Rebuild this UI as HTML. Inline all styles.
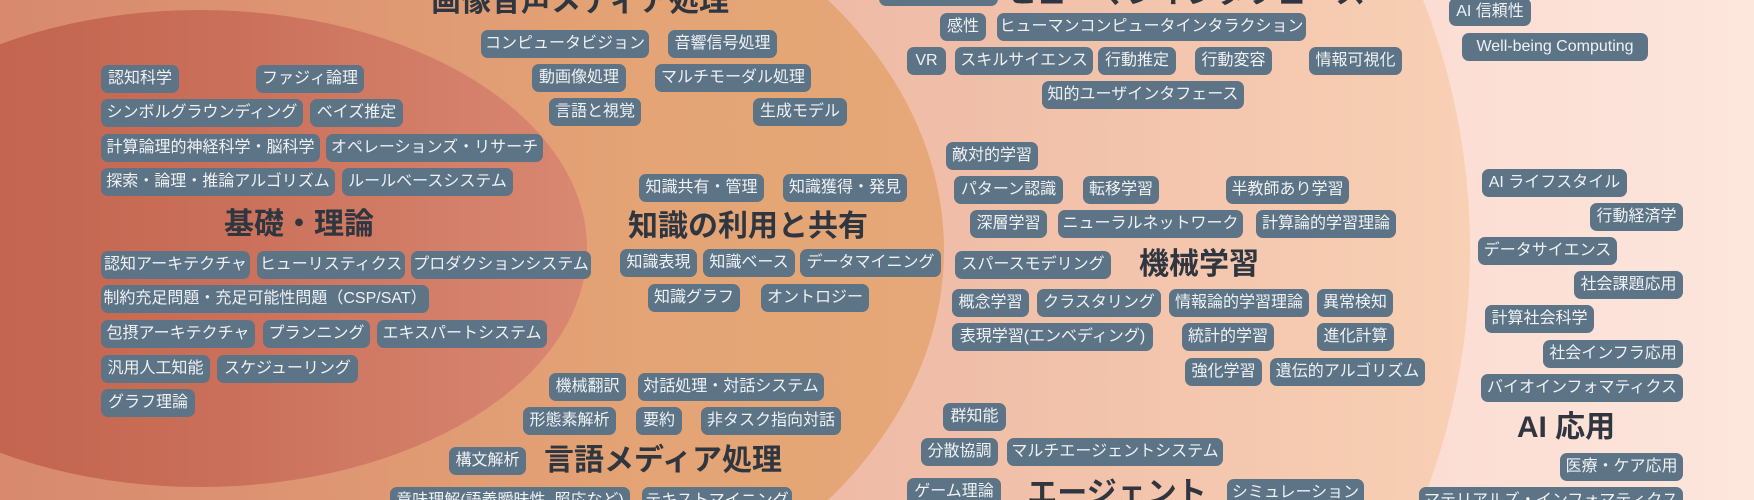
<!DOCTYPE html>
<html><head><meta charset="utf-8">
<style>
html,body{margin:0;padding:0;width:1754px;height:500px;overflow:hidden}
#w{width:1754px;height:500px;position:relative;overflow:hidden;background:linear-gradient(90deg,#f9d6cb 0%,#fbdcd2 80%,#fde6dc 100%);font-family:"Liberation Sans","Noto Sans CJK JP",sans-serif}
.e{position:absolute;border-radius:50%}
.t{position:absolute;height:28px;line-height:28px;background:#5d7386;color:#eef2f5;border-radius:7px;font-size:16px;text-align:center;white-space:nowrap;overflow:hidden;box-sizing:border-box}
.h{position:absolute;transform:translate(-50%,-50%);font-size:30px;font-weight:bold;color:#2f3640;white-space:nowrap;line-height:1}
</style></head><body><div id="w">
<div class="e" style="left:438px;top:-350px;width:1032px;height:1200px;background:linear-gradient(90deg,#eab0a0 0%,#f0bea8 50%,#f8d0b4 100%)"></div>
<div class="e" style="left:-236px;top:-170px;width:1180px;height:840px;background:linear-gradient(90deg,#d4806a 0%,#dc9272 40%,#e4a475 75%,#e6a878 100%)"></div>
<div class="e" style="left:-187px;top:10px;width:774px;height:477px;background:linear-gradient(90deg,#bd5c48 0%,#c96e58 50%,#d98872 100%)"></div>

<div class="t" style="left:101px;top:65px;width:78px">認知科学</div>
<div class="t" style="left:256px;top:65px;width:108px">ファジィ論理</div>
<div class="t" style="left:101px;top:99px;width:202px">シンボルグラウンディング</div>
<div class="t" style="left:310px;top:99px;width:93px">ベイズ推定</div>
<div class="t" style="left:101px;top:134px;width:219px">計算論理的神経科学・脳科学</div>
<div class="t" style="left:326px;top:134px;width:217px">オペレーションズ・リサーチ</div>
<div class="t" style="left:101px;top:168px;width:234px">探索・論理・推論アルゴリズム</div>
<div class="t" style="left:342px;top:168px;width:171px">ルールベースシステム</div>
<div class="t" style="left:101px;top:251px;width:149px">認知アーキテクチャ</div>
<div class="t" style="left:257px;top:251px;width:148px">ヒューリスティクス</div>
<div class="t" style="left:411px;top:251px;width:180px">プロダクションシステム</div>
<div class="t" style="left:101px;top:285px;width:328px">制約充足問題・充足可能性問題（CSP/SAT）</div>
<div class="t" style="left:101px;top:320px;width:154px">包摂アーキテクチャ</div>
<div class="t" style="left:263px;top:320px;width:107px">プランニング</div>
<div class="t" style="left:377px;top:320px;width:170px">エキスパートシステム</div>
<div class="t" style="left:101px;top:355px;width:109px">汎用人工知能</div>
<div class="t" style="left:217px;top:355px;width:141px">スケジューリング</div>
<div class="t" style="left:101px;top:389px;width:94px">グラフ理論</div>

<div class="t" style="left:481px;top:30px;width:168px">コンピュータビジョン</div>
<div class="t" style="left:668px;top:30px;width:109px">音響信号処理</div>
<div class="t" style="left:532px;top:64px;width:94px">動画像処理</div>
<div class="t" style="left:655px;top:64px;width:156px">マルチモーダル処理</div>
<div class="t" style="left:549px;top:98px;width:92px">言語と視覚</div>
<div class="t" style="left:753px;top:98px;width:94px">生成モデル</div>

<div class="t" style="left:639px;top:174px;width:125px">知識共有・管理</div>
<div class="t" style="left:783px;top:174px;width:124px">知識獲得・発見</div>
<div class="t" style="left:620px;top:249px;width:77px">知識表現</div>
<div class="t" style="left:703px;top:249px;width:92px">知識ベース</div>
<div class="t" style="left:800px;top:249px;width:141px">データマイニング</div>
<div class="t" style="left:648px;top:284px;width:92px">知識グラフ</div>
<div class="t" style="left:761px;top:284px;width:108px">オントロジー</div>

<div class="t" style="left:549px;top:373px;width:77px">機械翻訳</div>
<div class="t" style="left:638px;top:373px;width:186px">対話処理・対話システム</div>
<div class="t" style="left:523px;top:407px;width:93px">形態素解析</div>
<div class="t" style="left:636px;top:407px;width:46px">要約</div>
<div class="t" style="left:701px;top:407px;width:140px">非タスク指向対話</div>
<div class="t" style="left:449px;top:447px;width:77px">構文解析</div>
<div class="t" style="left:390px;top:487px;width:240px">意味理解(語義曖昧性, 照応など)</div>
<div class="t" style="left:642px;top:487px;width:150px">テキストマイニング</div>

<div class="t" style="left:879px;top:-22px;width:119px"></div>
<div class="t" style="left:940px;top:13px;width:46px">感性</div>
<div class="t" style="left:997px;top:13px;width:309px">ヒューマンコンピュータインタラクション</div>
<div class="t" style="left:907px;top:47px;width:39px">VR</div>
<div class="t" style="left:955px;top:47px;width:138px">スキルサイエンス</div>
<div class="t" style="left:1098px;top:47px;width:78px">行動推定</div>
<div class="t" style="left:1195px;top:47px;width:77px">行動変容</div>
<div class="t" style="left:1309px;top:47px;width:93px">情報可視化</div>
<div class="t" style="left:1042px;top:81px;width:202px">知的ユーザインタフェース</div>

<div class="t" style="left:946px;top:142px;width:92px">敵対的学習</div>
<div class="t" style="left:954px;top:176px;width:109px">パターン認識</div>
<div class="t" style="left:1083px;top:176px;width:76px">転移学習</div>
<div class="t" style="left:1226px;top:176px;width:123px">半教師あり学習</div>
<div class="t" style="left:970px;top:210px;width:77px">深層学習</div>
<div class="t" style="left:1058px;top:210px;width:185px">ニューラルネットワーク</div>
<div class="t" style="left:1256px;top:210px;width:140px">計算論的学習理論</div>
<div class="t" style="left:955px;top:251px;width:156px">スパースモデリング</div>
<div class="t" style="left:952px;top:289px;width:77px">概念学習</div>
<div class="t" style="left:1037px;top:289px;width:124px">クラスタリング</div>
<div class="t" style="left:1169px;top:289px;width:140px">情報論的学習理論</div>
<div class="t" style="left:1317px;top:289px;width:76px">異常検知</div>
<div class="t" style="left:952px;top:323px;width:201px">表現学習(エンベディング)</div>
<div class="t" style="left:1182px;top:323px;width:92px">統計的学習</div>
<div class="t" style="left:1317px;top:323px;width:77px">進化計算</div>
<div class="t" style="left:1185px;top:358px;width:77px">強化学習</div>
<div class="t" style="left:1270px;top:358px;width:155px">遺伝的アルゴリズム</div>

<div class="t" style="left:943px;top:403px;width:63px">群知能</div>
<div class="t" style="left:921px;top:438px;width:77px">分散協調</div>
<div class="t" style="left:1007px;top:438px;width:216px">マルチエージェントシステム</div>
<div class="t" style="left:907px;top:478px;width:94px">ゲーム理論</div>
<div class="t" style="left:1227px;top:479px;width:137px">シミュレーション</div>

<div class="t" style="left:1449px;top:-2px;width:82px">AI 信頼性</div>
<div class="t" style="left:1462px;top:33px;width:186px">Well-being Computing</div>
<div class="t" style="left:1482px;top:169px;width:145px">AI ライフスタイル</div>
<div class="t" style="left:1590px;top:203px;width:93px">行動経済学</div>
<div class="t" style="left:1478px;top:237px;width:139px">データサイエンス</div>
<div class="t" style="left:1574px;top:271px;width:109px">社会課題応用</div>
<div class="t" style="left:1485px;top:305px;width:109px">計算社会科学</div>
<div class="t" style="left:1543px;top:340px;width:140px">社会インフラ応用</div>
<div class="t" style="left:1481px;top:374px;width:202px">バイオインフォマティクス</div>
<div class="t" style="left:1560px;top:453px;width:123px">医療・ケア応用</div>
<div class="t" style="left:1419px;top:487px;width:264px">マテリアルズ・インフォマティクス</div>

<div class="h" style="left:580px;top:2px">画像音声メディア処理</div>
<div class="h" style="left:299px;top:225px">基礎・理論</div>
<div class="h" style="left:748px;top:227px">知識の利用と共有</div>
<div class="h" style="left:663px;top:461px">言語メディア処理</div>
<div class="h" style="left:1186px;top:-6px">ヒューマンインタフェース</div>
<div class="h" style="left:1199px;top:265px">機械学習</div>
<div class="h" style="left:1117px;top:494px">エージェント</div>
<div class="h" style="left:1566px;top:428px">AI 応用</div>
</div></body></html>
